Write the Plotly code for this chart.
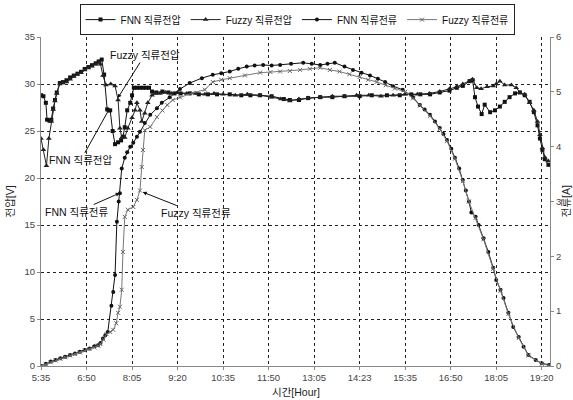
import plotly.graph_objects as go

# time axis: minutes since 05:35
tick_vals = [0, 75, 150, 225, 300, 375, 450, 525, 600, 675, 750, 825]
tick_text = ["5:35", "6:50", "8:05", "9:20", "10:35", "11:50", "13:05", "14:23",
             "15:35", "16:50", "18:05", "19:20"]

# FNN DC voltage [V]
fnn_v_t = [0, 4, 8, 10, 14, 17, 20, 23, 26, 31, 36, 42, 48, 54, 60, 66, 72, 78, 84, 90,
           95, 100, 104, 109, 114, 118, 122, 127, 132, 135, 138, 142, 147, 150, 153, 158,
           163, 168, 173, 178, 183, 190, 200, 210, 220, 230, 245, 260, 275, 290, 311, 330,
           345, 361, 380, 400, 410, 425, 440, 460, 480, 500, 525, 545, 570, 591, 610, 625,
           641, 657, 673, 685, 695, 706, 711, 715, 720, 726, 731, 740, 748, 756, 764, 772,
           781, 789, 797, 805, 812, 818, 822, 826, 830, 836]
fnn_v = [28.8, 28.7, 28.0, 26.2, 26.1, 26.2, 27.4, 28.3, 29.1, 30.1, 30.2, 30.4, 30.7, 30.9,
         31.1, 31.3, 31.6, 31.8, 32.0, 32.2, 32.4, 32.6, 31.0, 27.3, 27.2, 25.0, 23.6, 23.8,
         24.0, 24.4, 25.4, 27.2, 28.0, 28.8, 29.6, 29.6, 29.6, 29.6, 29.6, 29.6, 29.2, 29.1,
         29.2, 29.1, 29.0, 29.0, 29.0, 28.9, 28.9, 28.9, 28.9, 28.8, 28.8, 28.8, 28.7, 28.4,
         28.3, 28.3, 28.5, 28.6, 28.6, 28.7, 28.7, 28.8, 28.8, 28.8, 28.9, 28.9, 28.9, 29.1,
         29.3, 29.6, 29.8, 30.3, 30.4, 28.6, 27.6, 26.8, 27.8, 27.0, 27.2, 27.6, 28.1, 28.6,
         29.0, 29.1, 28.8, 28.1, 27.0, 25.6, 24.2, 23.0, 22.0, 21.4]

# Fuzzy DC voltage [V]
fuzzy_v_t = [0, 4, 9, 13, 17, 20, 23, 26, 31, 36, 42, 48, 54, 60, 66, 72, 78, 84, 90, 95,
             98, 102, 107, 115, 122, 127, 130, 133, 138, 143, 150, 155, 158, 163, 166, 171,
             176, 183, 188, 196, 205, 215, 225, 240, 255, 270, 285, 300, 320, 340, 360, 380,
             395, 410, 425, 440, 460, 480, 500, 520, 540, 560, 580, 600, 620, 640, 657, 673,
             685, 695, 706, 711, 718, 725, 735, 745, 750, 756, 764, 775, 783, 789, 797, 805,
             812, 818, 822, 826, 830, 836]
fuzzy_v = [24.2, 23.0, 21.3, 24.2, 26.0, 27.3, 28.2, 29.0, 30.0, 30.1, 30.2, 30.5, 30.8,
           31.0, 31.2, 31.5, 31.7, 31.9, 32.1, 32.3, 32.1, 30.9, 29.9, 30.0, 29.8, 28.3,
           25.3, 24.3, 24.3, 25.3, 26.4, 27.2, 28.0, 27.2, 26.0, 26.9, 28.0, 28.8, 29.0,
           29.0, 29.1, 29.0, 29.1, 29.0, 29.0, 28.9, 29.0, 28.9, 28.8, 28.9, 28.8, 28.6,
           28.4, 28.2, 28.4, 28.5, 28.6, 28.7, 28.7, 28.8, 28.8, 28.7, 28.8, 28.9, 28.9,
           29.0, 29.2, 29.5, 29.7, 30.0, 30.3, 30.5, 29.6, 29.5, 29.7, 29.8, 30.0, 30.3,
           29.9, 29.9, 29.6, 29.1, 28.9, 28.0, 27.2, 26.0, 24.6, 23.2, 22.2, 21.8]

# FNN DC current [A]
fnn_i_t = [0, 8, 16, 24, 32, 40, 48, 56, 64, 72, 80, 88, 94, 98, 102, 106, 110, 116, 119,
           122, 125, 128, 130, 133, 138, 142, 147, 152, 158, 163, 171, 180, 191, 199, 212,
           229, 245, 265, 283, 297, 311, 325, 339, 352, 366, 380, 394, 412, 432, 446, 460,
           472, 484, 500, 514, 528, 542, 555, 567, 580, 596, 613, 624, 632, 641, 649, 657,
           663, 669, 676, 682, 689, 695, 700, 705, 709, 716, 721, 729, 737, 745, 750, 757,
           762, 770, 778, 787, 795, 803, 815, 825, 837]
fnn_i = [0.0, 0.04, 0.08, 0.11, 0.14, 0.17, 0.20, 0.23, 0.26, 0.29, 0.32, 0.36, 0.38, 0.42,
         0.50, 0.56, 0.62, 1.10, 1.35, 1.66, 2.63, 3.00, 3.15, 3.60, 3.80, 3.90, 4.00, 4.07,
         4.18, 4.27, 4.43, 4.58, 4.70, 4.80, 4.90, 5.05, 5.16, 5.25, 5.31, 5.34, 5.37, 5.42,
         5.46, 5.48, 5.49, 5.48, 5.49, 5.51, 5.53, 5.51, 5.49, 5.51, 5.53, 5.46, 5.40, 5.35,
         5.30, 5.24, 5.18, 5.10, 5.04, 4.90, 4.76, 4.68, 4.58, 4.46, 4.34, 4.23, 4.12, 3.96,
         3.80, 3.60, 3.39, 3.20, 3.00, 2.80, 2.72, 2.57, 2.33, 2.08, 1.79, 1.57, 1.39, 1.24,
         0.97, 0.71, 0.53, 0.35, 0.20, 0.11, 0.05, 0.02]

# Fuzzy DC current [A]
fuzzy_i_t = [0, 8, 16, 24, 32, 40, 48, 56, 64, 72, 80, 88, 94, 98, 103, 108, 114, 119, 124,
             127, 130, 133, 135, 138, 143, 152, 158, 163, 166, 168, 171, 180, 191, 200, 208,
             217, 229, 250, 270, 283, 297, 311, 336, 361, 378, 394, 410, 427, 443, 460, 476,
             492, 508, 525, 539, 553, 568, 583, 600, 613, 624, 641, 657, 669, 682, 695, 705,
             716, 729, 745, 757, 770, 787, 803, 825, 837]
fuzzy_i = [0.0, 0.03, 0.07, 0.10, 0.13, 0.16, 0.19, 0.22, 0.25, 0.28, 0.31, 0.34, 0.37, 0.40,
           0.48, 0.58, 0.62, 0.66, 0.78, 0.97, 1.08, 1.39, 2.08, 2.72, 2.85, 2.90, 3.03, 3.20,
           3.63, 3.94, 4.30, 4.36, 4.54, 4.66, 4.76, 4.85, 4.90, 4.98, 5.04, 5.18, 5.22, 5.25,
           5.30, 5.35, 5.36, 5.37, 5.38, 5.40, 5.42, 5.44, 5.40, 5.37, 5.32, 5.27, 5.22, 5.18,
           5.12, 5.06, 5.00, 4.88, 4.75, 4.56, 4.32, 4.10, 3.78, 3.37, 3.00, 2.70, 2.31, 1.77,
           1.37, 0.95, 0.51, 0.19, 0.04, 0.01]

FONT = "Liberation Sans, Noto Sans CJK KR, sans-serif"

fig = go.Figure()
fig.add_trace(go.Scatter(x=fnn_v_t, y=fnn_v, name="FNN 직류전압", mode="lines+markers",
                         line=dict(color="#111111", width=1),
                         marker=dict(symbol="square", size=4, color="#111111")))
fig.add_trace(go.Scatter(x=fuzzy_v_t, y=fuzzy_v, name="Fuzzy 직류전압", mode="lines+markers",
                         line=dict(color="#222222", width=1),
                         marker=dict(symbol="triangle-up", size=5, color="#222222")))
fig.add_trace(go.Scatter(x=fnn_i_t, y=fnn_i, name="FNN 직류전류", mode="lines+markers",
                         yaxis="y2", line=dict(color="#111111", width=1),
                         marker=dict(symbol="circle", size=4, color="#111111")))
fig.add_trace(go.Scatter(x=fuzzy_i_t, y=fuzzy_i, name="Fuzzy 직류전류", mode="lines+markers",
                         yaxis="y2", line=dict(color="#777777", width=1),
                         marker=dict(symbol="x-thin", size=4, color="#666666",
                                     line=dict(width=1, color="#666666"))))

ann_font = dict(family=FONT, size=10.5, color="#111111")
annos = [
    ("Fuzzy 직류전압", 126.4, 28.5, 27, -43),
    ("FNN 직류전압", 113.0, 27.4, -29, 52),
    ("FNN 직류전류", 129.7, 18.4, -43, 19),
    ("Fuzzy 직류전류", 167.6, 18.5, 53, 21),
]
for txt, x, y, ax, ay in annos:
    fig.add_annotation(x=x, y=y, xref="x", yref="y", text=txt, showarrow=True,
                       ax=ax, ay=ay, arrowhead=2, arrowsize=0.8, arrowwidth=1,
                       arrowcolor="#111111", font=ann_font, standoff=0)

title_font = dict(family=FONT, size=10.5, color="#222222")
fig.add_annotation(text="시간[Hour]", xref="paper", yref="paper", x=0.5, y=-0.079,
                   xanchor="center", yanchor="middle", showarrow=False, font=title_font)
fig.add_annotation(text="전압[V]", xref="paper", yref="paper", x=-0.061, y=0.5,
                   xanchor="center", yanchor="middle", showarrow=False, font=title_font,
                   textangle=-90)
fig.add_annotation(text="전류[A]", xref="paper", yref="paper", x=1.031, y=0.5,
                   xanchor="center", yanchor="middle", showarrow=False, font=title_font,
                   textangle=-90)

fig.update_layout(
    width=573, height=400,
    margin=dict(l=41, r=23, t=37, b=34, autoexpand=False),
    paper_bgcolor="white", plot_bgcolor="white",
    font=dict(family=FONT, size=10, color="#333333"),
    showlegend=True,
    legend=dict(orientation="h", x=0.503, xanchor="center", y=1.100, yanchor="top",
                bordercolor="#222222", borderwidth=1, bgcolor="white",
                font=dict(family=FONT, size=10, color="#111111"),
                itemwidth=30, tracegroupgap=0),
    xaxis=dict(range=[0, 838.6], tickmode="array", tickvals=tick_vals, ticktext=tick_text,
               showgrid=True, gridcolor="#222222", griddash="dot", gridwidth=1,
               showline=True, linecolor="#888888", linewidth=1, zeroline=False,
               ticks="outside", ticklen=3, tickcolor="#888888",
               tickfont=dict(size=9.5, color="#444444"), automargin=False),
    yaxis=dict(range=[0, 35], tickvals=[0, 5, 10, 15, 20, 25, 30, 35],
               showgrid=True, gridcolor="#222222", griddash="dot", gridwidth=1,
               showline=True, linecolor="#888888", linewidth=1, zeroline=False,
               ticks="outside", ticklen=3, tickcolor="#888888",
               tickfont=dict(size=9.5, color="#444444"), automargin=False),
    yaxis2=dict(range=[0, 6], tickvals=[0, 1, 2, 3, 4, 5, 6], overlaying="y", side="right",
                showgrid=False, showline=True, linecolor="#888888", linewidth=1,
                zeroline=False, ticks="outside", ticklen=3, tickcolor="#888888",
                tickfont=dict(size=9.5, color="#444444"), automargin=False),
)

fig.write_html("out.html", config={"displayModeBar": False},
               post_script="document.body.style.margin='0';document.body.style.overflow='hidden';")
